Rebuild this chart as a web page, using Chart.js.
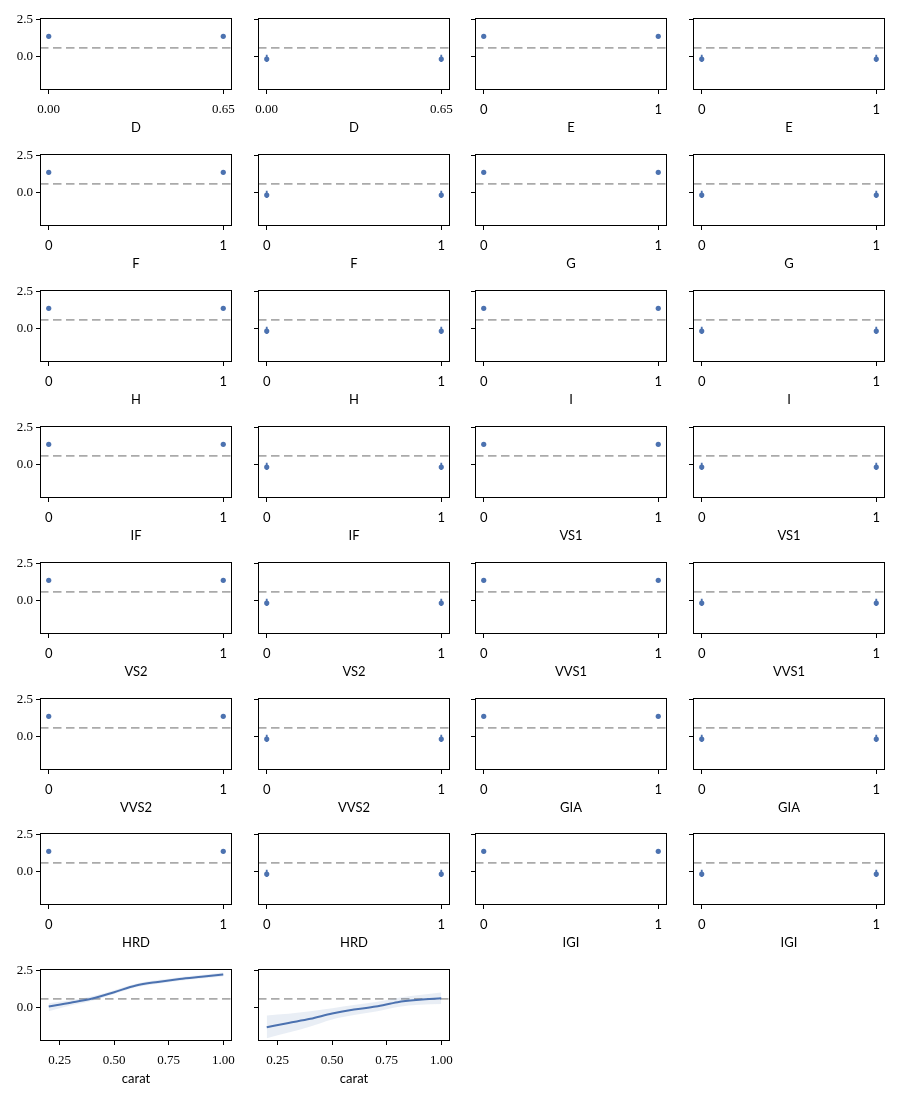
<!DOCTYPE html>
<html>
<head>
<meta charset="utf-8">
<script src="https://cdn.jsdelivr.net/npm/chart.js@4.4.1/dist/chart.umd.min.js"></script>
<style>
  body { margin: 0; background: #fff; }
  #wrap { position: relative; width: 900px; height: 1100px; }
  #wrap canvas { position: absolute; }
</style>
</head>
<body>
<div id="wrap"></div>
<script>
// one pair of panels per feature (left = first effect, right = second effect)
const features = ["D", "E", "F", "G", "H", "I", "IF", "VS1", "VS2", "VVS1", "VVS2", "GIA", "HRD", "IGI"];
const levelHigh = [0.65, 1, 1, 1, 1, 1, 1, 1, 1, 1, 1, 1, 1, 1];

const effectA = [1.38, 1.38, 1.38, 1.38, 1.38, 1.38, 1.38, 1.38, 1.38, 1.38, 1.38, 1.38, 1.38, 1.38];
const effectALow = [1.33, 1.33, 1.33, 1.33, 1.33, 1.33, 1.33, 1.33, 1.33, 1.33, 1.33, 1.33, 1.33, 1.33];
const effectAHigh = [1.43, 1.43, 1.43, 1.43, 1.43, 1.43, 1.43, 1.43, 1.43, 1.43, 1.43, 1.43, 1.43, 1.43];

const effectB = [-0.17, -0.17, -0.17, -0.17, -0.17, -0.17, -0.17, -0.17, -0.17, -0.17, -0.17, -0.17, -0.17, -0.17];
const effectBLow = [-0.37, -0.37, -0.37, -0.37, -0.37, -0.37, -0.37, -0.37, -0.37, -0.37, -0.37, -0.37, -0.37, -0.37];
const effectBHigh = [0.13, 0.13, 0.13, 0.13, 0.13, 0.13, 0.13, 0.13, 0.13, 0.13, 0.13, 0.13, 0.13, 0.13];

// continuous feature
const carat = [0.2, 0.3, 0.4, 0.5, 0.6, 0.7, 0.8, 0.9, 1.0];
const caratMeanA = [0.07, 0.33, 0.62, 1.05, 1.5, 1.75, 1.95, 2.1, 2.25];
const caratLowA = [-0.25, 0.15, 0.47, 0.92, 1.38, 1.63, 1.83, 1.98, 2.12];
const caratHighA = [0.3, 0.5, 0.77, 1.18, 1.62, 1.87, 2.07, 2.22, 2.38];
const caratMeanB = [-1.33, -1.04, -0.76, -0.4, -0.13, 0.07, 0.37, 0.53, 0.64];
const caratLowB = [-2.08, -1.7, -1.28, -0.8, -0.5, -0.27, 0.05, 0.2, 0.24];
const caratHighB = [-0.53, -0.42, -0.25, -0.04, 0.17, 0.38, 0.66, 0.85, 1.02];
const caratTicks = [0.25, 0.5, 0.75, 1.0];

const refLine = 0.6;
const yTicks = [0, 2.5];
const yMin = -2.27, yMax = 2.64;

const blue = "#4c72b0";
const grey = "#aaaaaa";
const colLeft = [40, 258, 475, 693];
const plotW = 192, plotH = 75;
const rowTop = r => Math.round(15 + r * 135.9);

const framePlugin = {
  id: "frame",
  afterDraw(chart) {
    const { ctx, chartArea: a } = chart;
    ctx.save();
    ctx.strokeStyle = "#000";
    ctx.lineWidth = 1;
    ctx.strokeRect(Math.round(a.left) + 0.5, Math.round(a.top) + 0.5,
      Math.round(a.right - a.left) - 1, Math.round(a.bottom - a.top) - 1);
    ctx.restore();
  }
};

function refDataset(x0, x1) {
  return {
    type: "line", data: [{ x: x0, y: refLine }, { x: x1, y: refLine }],
    borderColor: grey, borderWidth: 1.8, borderDash: [8.5, 4.5],
    pointRadius: 0, order: 3
  };
}

function makePanel(idx) {
  const row = Math.floor(idx / 4), col = idx % 4;
  const f = Math.floor(idx / 2), side = idx % 2;
  const datasets = [];
  let xMin, xMax, xTicks, decimals, name;

  if (f < features.length) {
    const hi = levelHigh[f];
    xMin = -0.05 * hi; xMax = 1.05 * hi;
    xTicks = [0, hi];
    decimals = hi === 1 ? 0 : 2;
    name = features[f];
    const m = side === 0 ? effectA[f] : effectB[f];
    const lo = side === 0 ? effectALow[f] : effectBLow[f];
    const up = side === 0 ? effectAHigh[f] : effectBHigh[f];
    datasets.push(refDataset(xMin, xMax));
    xTicks.forEach(x => {
      datasets.push({
        type: "line", data: [{ x: x, y: lo }, { x: x, y: up }],
        borderColor: blue, borderWidth: 1.8, pointRadius: 0, order: 2
      });
    });
    datasets.push({
      type: "scatter", data: xTicks.map(x => ({ x: x, y: m })),
      backgroundColor: blue, borderWidth: 0, pointRadius: 2.6, order: 1
    });
  } else {
    xMin = 0.16; xMax = 1.04;
    xTicks = caratTicks;
    decimals = 2;
    name = "carat";
    const mean = side === 0 ? caratMeanA : caratMeanB;
    const low = side === 0 ? caratLowA : caratLowB;
    const high = side === 0 ? caratHighA : caratHighB;
    datasets.push(refDataset(xMin, xMax));
    datasets.push({
      type: "line", data: carat.map((x, i) => ({ x: x, y: low[i] })),
      borderWidth: 0, pointRadius: 0, cubicInterpolationMode: "monotone", order: 2
    });
    datasets.push({
      type: "line", data: carat.map((x, i) => ({ x: x, y: high[i] })),
      borderWidth: 0, pointRadius: 0, cubicInterpolationMode: "monotone",
      fill: "-1", backgroundColor: "rgba(76,114,176,0.12)", order: 2
    });
    datasets.push({
      type: "line", data: carat.map((x, i) => ({ x: x, y: mean[i] })),
      borderColor: blue, borderWidth: 2, pointRadius: 0,
      cubicInterpolationMode: "monotone", order: 1
    });
  }

  const canvas = document.createElement("canvas");
  canvas.width = 40 + plotW + 14;
  canvas.height = 8 + plotH + 46;
  canvas.style.left = (colLeft[col] - 40) + "px";
  canvas.style.top = (rowTop(row) - 8) + "px";
  document.getElementById("wrap").appendChild(canvas);

  new Chart(canvas, {
    type: "scatter",
    data: { datasets },
    options: {
      responsive: false,
      animation: false,
      devicePixelRatio: 1,
      layout: { padding: { top: 8, right: 14, left: 0, bottom: 0 } },
      plugins: { legend: { display: false }, tooltip: { enabled: false } },
      scales: {
        x: {
          type: "linear", min: xMin, max: xMax,
          afterBuildTicks: s => { s.ticks = xTicks.map(v => ({ value: v })); },
          afterFit: s => { s.height = 46; },
          ticks: {
            autoSkip: false, maxRotation: 0, padding: 8, color: "#000",
            font: decimals ? { family: "Liberation Serif", size: 13 } : { family: "Lato", size: 13 },
            callback: v => Number(v).toFixed(decimals)
          },
          grid: { drawOnChartArea: false, drawTicks: true, tickLength: 4, color: "#000" },
          border: { display: false },
          title: { display: true, text: name, color: "#000", padding: 0, font: { family: "Lato", size: 13 } }
        },
        y: {
          type: "linear", min: yMin, max: yMax,
          afterBuildTicks: s => { s.ticks = yTicks.map(v => ({ value: v })); },
          afterFit: s => { s.width = 40; },
          ticks: {
            padding: 3, color: "#000",
            font: { family: "Liberation Serif", size: 13 },
            callback: v => col === 0 ? Number(v).toFixed(1) : ""
          },
          grid: { drawOnChartArea: false, drawTicks: true, tickLength: 4, color: "#000" },
          border: { display: false }
        }
      }
    },
    plugins: [framePlugin]
  });
}

for (let i = 0; i < (features.length + 1) * 2; i++) {
  makePanel(i);
}
</script>
</body>
</html>
